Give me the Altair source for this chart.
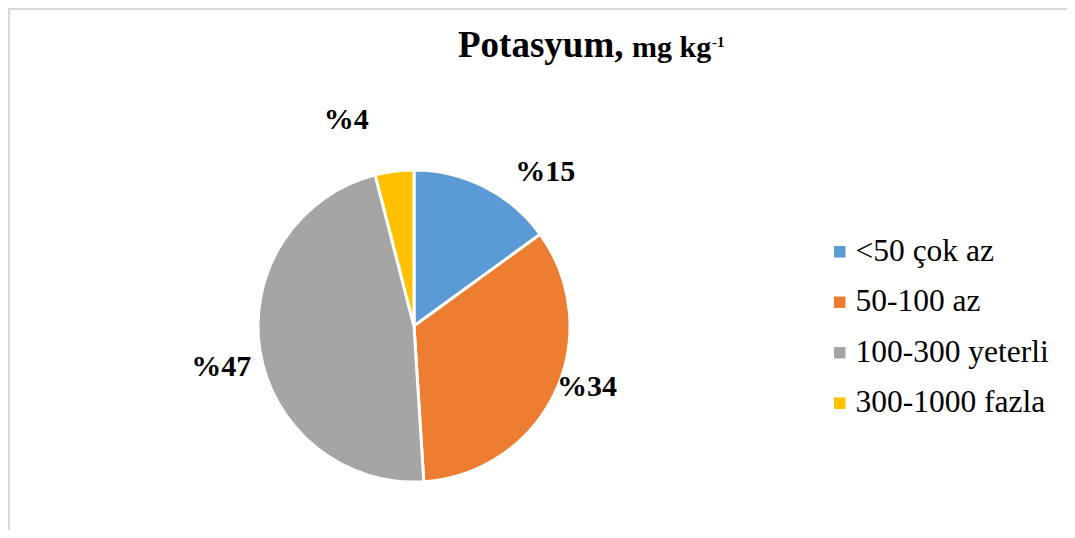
import altair as alt
import pandas as pd

categories = ["<50 çok az", "50-100 az", "100-300 yeterli", "300-1000 fazla"]
values = [15, 34, 47, 4]
labels = ["%15", "%34", "%47", "%4"]
colors = ["#5B9BD5", "#ED7D31", "#A5A5A5", "#FFC000"]

df = pd.DataFrame({
    "category": categories,
    "value": values,
    "label": labels,
    "idx": list(range(len(categories))),
})
total = sum(values)

W, H = 1059, 522
CX, CY, R = 406, 318, 156
FONT = "Liberation Serif"

theta_scale = alt.Scale(domain=[0, total], range=[0, 6.283185307179586])

base = alt.Chart(df)

pie = base.mark_arc(outerRadius=R, stroke="white", strokeWidth=3).encode(
    theta=alt.Theta("value:Q", stack=True, scale=theta_scale),
    color=alt.Color(
        "category:N",
        scale=alt.Scale(domain=categories, range=colors),
        sort=categories,
        legend=alt.Legend(
            title=None, orient="none", legendX=816, legendY=228,
            symbolType="square", symbolSize=132, symbolStrokeWidth=0,
            labelFont=FONT, labelFontSize=31.5, labelColor="black",
            rowPadding=17.5, labelOffset=0, labelLimit=400, padding=0,
        ),
    ),
    order=alt.Order("idx:Q"),
    x=alt.value(CX),
    y=alt.value(CY),
)

# per-label nudges (Excel "best fit" placement)
nudges = [(45, 15), (1, -20), (-5, 11), (-44, -17)]
label_layers = []
for i, (ddx, ddy) in enumerate(nudges):
    lyr = base.transform_window(
        cum="sum(value)", sort=[alt.SortField("idx")]
    ).transform_calculate(
        mid="datum.cum - datum.value / 2"
    ).transform_filter(
        alt.datum.idx == i
    ).mark_text(
        font=FONT, fontSize=30, fontWeight="bold", color="black",
        align="center", baseline="middle", dx=ddx, dy=ddy,
    ).encode(
        theta=alt.Theta("mid:Q", stack=None, scale=theta_scale),
        radius=alt.value(190),
        text="label:N",
        x=alt.value(CX),
        y=alt.value(CY),
    )
    label_layers.append(lyr)

one = alt.Chart(pd.DataFrame({"a": [0]}))
t1 = one.mark_text(font=FONT, fontSize=37, fontWeight="bold", align="left",
                   baseline="alphabetic", color="black", text="Potasyum,").encode(
    x=alt.value(450), y=alt.value(49))
t2 = one.mark_text(font=FONT, fontSize=30, fontWeight="bold", align="left",
                   baseline="alphabetic", color="black", text="mg kg").encode(
    x=alt.value(624), y=alt.value(49))
t3 = one.mark_text(font=FONT, fontSize=15, fontWeight="bold", align="left",
                   baseline="alphabetic", color="black", text="-1").encode(
    x=alt.value(704), y=alt.value(39))

# chart frame (top and left edges)
frame_top = one.mark_rule(color="#d9d9d9", strokeWidth=2).encode(
    x=alt.value(0), x2=alt.value(W), y=alt.value(1))
frame_left = one.mark_rule(color="#d9d9d9", strokeWidth=2).encode(
    x=alt.value(1), y=alt.value(0), y2=alt.value(H))

chart = alt.layer(frame_top, frame_left, pie, *label_layers, t1, t2, t3).properties(
    width=W, height=H, padding=0,
    autosize=alt.AutoSizeParams(type="none"),
    background="white",
).configure_view(strokeWidth=0).configure_legend(labelFont=FONT)

chart.save("out.html", embed_options={"renderer": "svg", "actions": False})
